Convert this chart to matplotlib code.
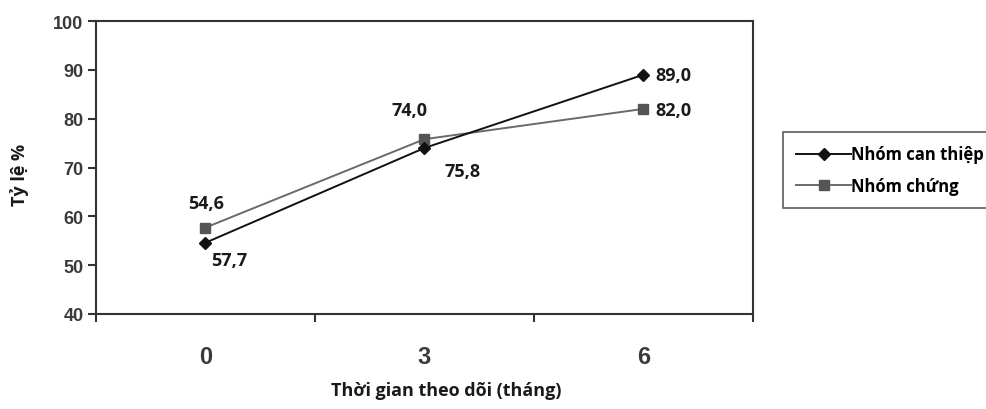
import matplotlib
matplotlib.use("Agg")
import matplotlib.pyplot as plt
from matplotlib import font_manager

categories = ["0", "3", "6"]
series_names = ["Nhóm can thiệp", "Nhóm chứng"]
can_thiep = [54.6, 74.0, 89.0]
chung = [57.7, 75.8, 82.0]
can_thiep_labels = ["54,6", "74,0", "89,0"]
chung_labels = ["57,7", "75,8", "82,0"]
y_ticks = [40, 50, 60, 70, 80, 90, 100]

avail = {f.name for f in font_manager.fontManager.ttflist}
narrow = "Liberation Sans Narrow" if "Liberation Sans Narrow" in avail else "Liberation Sans"
textfont = "Open Sans"

fig = plt.figure(figsize=(9.87, 4.10), dpi=100)
ax = fig.add_axes([96/987, 1 - 315/410, (753-96)/987, (315-22)/410])

x = list(range(len(categories)))
ax.plot(x, can_thiep, color="#111111", lw=1.4, marker="D", ms=6, mfc="#111111", mec="#111111", label=series_names[0], zorder=3)
ax.plot(x, chung, color="#6a6a6a", lw=1.4, marker="s", ms=7, mfc="#555555", mec="#555555", label=series_names[1], zorder=2)

ax.set_xlim(-0.5, 2.5)
ax.set_ylim(40, 100)
ax.set_yticks(y_ticks)
ax.set_yticklabels([str(v) for v in y_ticks], fontfamily=narrow, fontweight="bold", fontsize=13, color="#3a3a3a")
ax.set_xticks(x)
ax.set_xticklabels(categories, fontfamily=narrow, fontweight="bold", fontsize=17, color="#3a3a3a")
ax.tick_params(axis="x", which="major", length=0, pad=22)
ax.set_xticks([-0.5, 0.5, 1.5, 2.5], minor=True)
ax.tick_params(axis="x", which="minor", length=6, width=1.5, color="#333333", direction="out")
ax.tick_params(axis="y", length=6, width=1.5, color="#333333", direction="out", pad=3)
for s in ax.spines.values():
    s.set_linewidth(1.5)
    s.set_color("#333333")

tf = dict(fontfamily=textfont, fontweight="bold", fontsize=13, color="#1a1a1a")
off_ct = [(1, 40, "center"), (-15, 38, "center"), (12, 0, "left")]
off_ch = [(24, -32, "center"), (38, -32, "center"), (12, -1, "left")]
for i in x:
    dx, dy, ha = off_ct[i]
    ax.annotate(can_thiep_labels[i], (i, can_thiep[i]), xytext=(dx, dy), textcoords="offset pixels", ha=ha, va="center", **tf)
    dx, dy, ha = off_ch[i]
    ax.annotate(chung_labels[i], (i, chung[i]), xytext=(dx, dy), textcoords="offset pixels", ha=ha, va="center", **tf)

fig.text(20/987, 1 - 175/410, "Tỷ lệ %", rotation=90, ha="center", va="center",
         fontfamily=textfont, fontweight="bold", fontsize=13, color="#1a1a1a")
fig.text(446/987, 1 - 391/410, "Thời gian theo dõi (tháng)", ha="center", va="center",
         fontfamily=textfont, fontweight="bold", fontsize=13, color="#1a1a1a")

leg = fig.legend(loc="upper left", bbox_to_anchor=(783/987, 1 - 133/410), frameon=True, fancybox=False,
                 prop={"family": textfont, "weight": "bold", "size": 12}, handlelength=3.3, handletextpad=0.0,
                 borderpad=0.8, labelspacing=0.8, borderaxespad=0)
leg.get_frame().set_edgecolor("#333333")
leg.get_frame().set_linewidth(1.2)

fig.savefig("out.png", dpi=100)
